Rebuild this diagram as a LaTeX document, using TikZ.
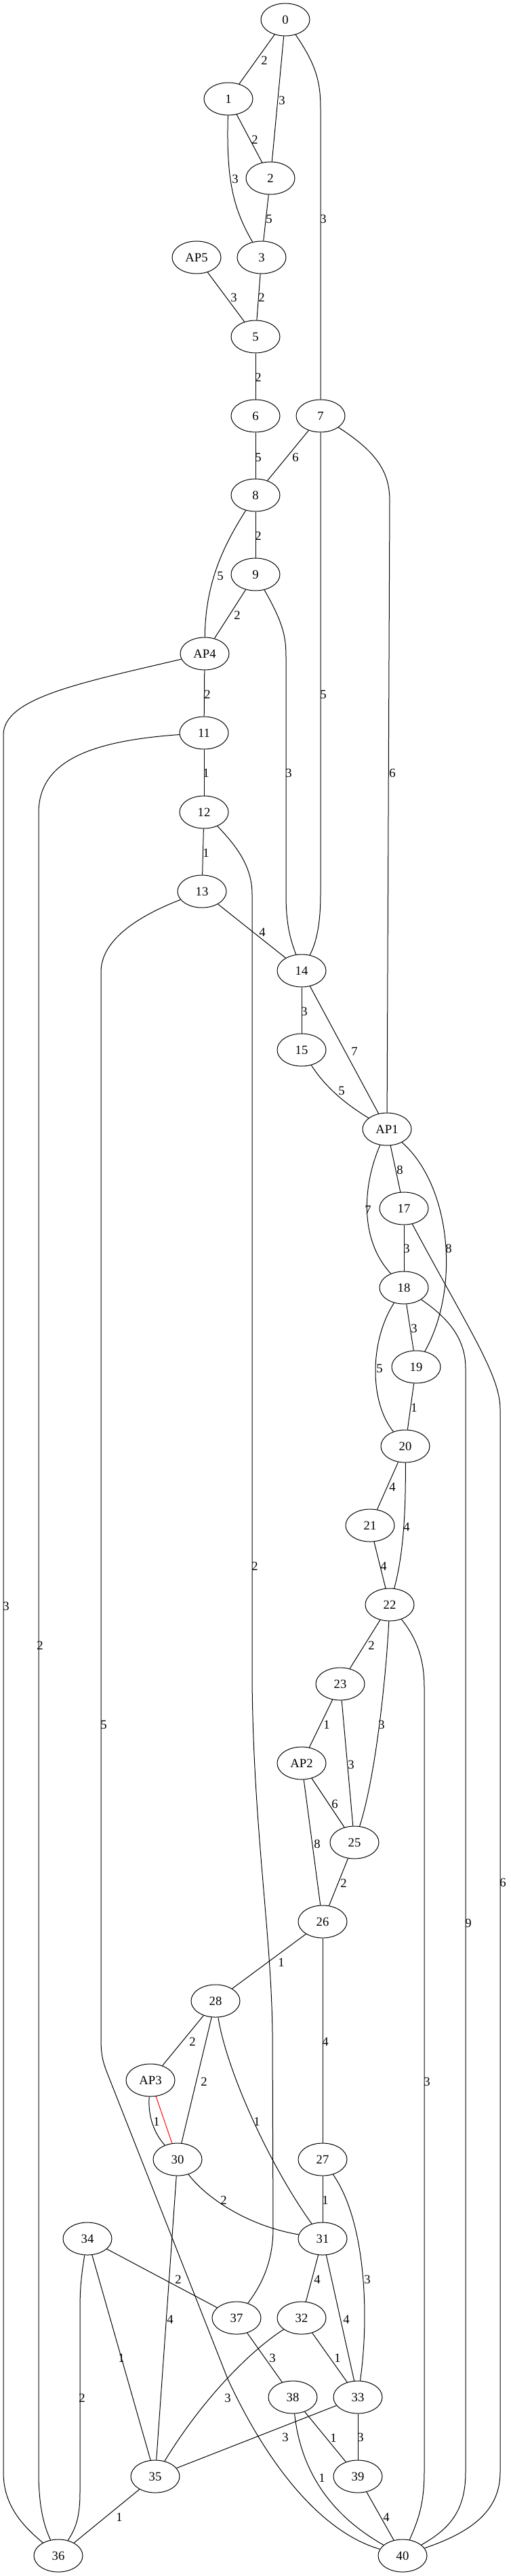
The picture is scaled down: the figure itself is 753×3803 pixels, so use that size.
\documentclass[tikz,border=0pt]{standalone}
\usepackage{fontspec}
\setmainfont{Liberation Serif}
\usepackage{tikz}
\usetikzlibrary{shapes.geometric}

\begin{document}
\begin{tikzpicture}[x=0.75pt,y=0.75pt,yscale=-1,xscale=1,
  vtx/.style={draw,ellipse,minimum width=54pt,minimum height=36pt,inner sep=0pt,line width=0.75pt,font=\fontsize{14}{16}\selectfont},
  wt/.style={inner sep=0pt,font=\fontsize{14}{16}\selectfont},
  every path/.style={line width=0.75pt}]
\fill[white] (0,0) rectangle (753,3803);
\useasboundingbox (0,0) rectangle (753,3803);

%Shape: Ellipse
\node[vtx] (n0) at (421,29) {0};
\node[vtx] (n1) at (337,146) {1};
\node[vtx] (n2) at (399,263) {2};
\node[vtx] (nAP5) at (290,380) {AP5};
\node[vtx] (n3) at (386,380) {3};
\node[vtx] (n5) at (377,497) {5};
\node[vtx] (n6) at (377,614) {6};
\node[vtx] (n7) at (473,614) {7};
\node[vtx] (n8) at (377,731) {8};
\node[vtx] (n9) at (377,848) {9};
\node[vtx] (nAP4) at (302,965) {AP4};
\node[vtx] (n11) at (301,1082) {11};
\node[vtx] (n12) at (301,1199) {12};
\node[vtx] (n13) at (298,1316) {13};
\node[vtx] (n14) at (445,1433) {14};
\node[vtx] (n15) at (445,1550) {15};
\node[vtx] (nAP1) at (571,1667) {AP1};
\node[vtx] (n17) at (596,1784) {17};
\node[vtx] (n18) at (596,1901) {18};
\node[vtx] (n19) at (614,2018) {19};
\node[vtx] (n20) at (598,2135) {20};
\node[vtx] (n21) at (546,2252) {21};
\node[vtx] (n22) at (575,2369) {22};
\node[vtx] (n23) at (502,2486) {23};
\node[vtx] (nAP2) at (445,2603) {AP2};
\node[vtx] (n25) at (523,2720) {25};
\node[vtx] (n26) at (476,2837) {26};
\node[vtx] (n28) at (318,2954) {28};
\node[vtx] (nAP3) at (222,3071) {AP3};
\node[vtx] (n30) at (262,3188) {30};
\node[vtx] (n27) at (476,3188) {27};
\node[vtx] (n34) at (129,3305) {34};
\node[vtx] (n31) at (476,3305) {31};
\node[vtx] (n37) at (349,3422) {37};
\node[vtx] (n32) at (445,3422) {32};
\node[vtx] (n38) at (432,3539) {38};
\node[vtx] (n33) at (528,3539) {33};
\node[vtx] (n35) at (229,3656) {35};
\node[vtx] (n39) at (528,3656) {39};
\node[vtx] (n36) at (86,3773) {36};
\node[vtx] (n40) at (594,3773) {40};

%Straight Lines and curves
\draw (n0) -- (n1);
\draw (n0) -- (n2);
\draw (n0) .. controls (466,95) and (473,120) .. (473,160) -- (n7);
\draw (n1) -- (n2);
\draw (n1) .. controls (334,260) and (342,305) .. (n3);
\draw (n2) -- (n3);
\draw (nAP5) -- (n5);
\draw (n3) -- (n5);
\draw (n5) -- (n6);
\draw (n6) -- (n8);
\draw (n7) -- (n8);
\draw (n7) -- (473,1320) .. controls (473,1370) and (465,1395) .. (n14);
\draw (n7) .. controls (560,670) and (575,700) .. (575,740) -- (nAP1);
\draw (n8) -- (n9);
\draw (n8) .. controls (330,805) and (303,860) .. (nAP4);
\draw (n9) -- (nAP4);
\draw (n9) .. controls (418,920) and (422,940) .. (422,970) -- (422,1320) .. controls (422,1370) and (430,1390) .. (n14);
\draw (nAP4) -- (n11);
\draw (nAP4) .. controls (120,1008) and (5,1030) .. (5,1085) -- (5,3650) .. controls (5,3700) and (35,3730) .. (n36);
\draw (n11) -- (n12);
\draw (n11) .. controls (130,1094) and (57,1125) .. (57,1200) -- (57,3650) .. controls (57,3700) and (65,3730) .. (n36);
\draw (n12) -- (n13);
\draw (n12) .. controls (350,1250) and (372,1280) .. (372,1320) -- (372,2480) .. controls (374,2700) and (400,2850) .. (402,3000) -- (403,3290) .. controls (403,3340) and (385,3375) .. (n37);
\draw (n13) -- (n14);
\draw (n13) .. controls (210,1350) and (149,1385) .. (149,1435) -- (149,3010) .. controls (149,3035) and (152,3045) .. (160,3065) -- (336,3512) .. controls (400,3650) and (480,3740) .. (n40);
\draw (n14) -- (n15);
\draw (n14) -- (nAP1);
\draw (n15) .. controls (480,1605) and (510,1630) .. (nAP1);
\draw (nAP1) -- (n17);
\draw (nAP1) .. controls (535,1750) and (530,1830) .. (n18);
\draw (nAP1) .. controls (665,1750) and (680,1900) .. (n19);
\draw (n17) -- (n18);
\draw (n17) .. controls (690,1960) and (738,2030) .. (738,2080) -- (738,3650) .. controls (738,3710) and (690,3740) .. (n40);
\draw (n18) -- (n19);
\draw (n18) .. controls (545,1980) and (545,2070) .. (n20);
\draw (n18) .. controls (660,1945) and (687,1975) .. (687,2020) -- (687,3650) .. controls (687,3710) and (660,3735) .. (n40);
\draw (n19) -- (n20);
\draw (n20) -- (n21);
\draw (n20) .. controls (599,2240) and (594,2300) .. (n22);
\draw (n21) -- (n22);
\draw (n22) -- (n23);
\draw (n22) .. controls (570,2470) and (555,2620) .. (n25);
\draw (n22) .. controls (612,2415) and (626,2445) .. (626,2490) -- (626,3650) .. controls (626,3700) and (615,3725) .. (n40);
\draw (n23) -- (nAP2);
\draw (n23) -- (n25);
\draw (nAP2) -- (n25);
\draw (nAP2) -- (n26);
\draw (n25) -- (n26);
\draw (n26) -- (n28);
\draw (n26) -- (n27);
\draw (n28) -- (nAP3);
\draw (n28) -- (n30);
\draw (n28) .. controls (335,3060) and (400,3200) .. (n31);
\draw (nAP3) .. controls (218,3125) and (228,3150) .. (n30);
\draw [color={rgb, 255:red, 255; green, 0; blue, 0 }] (nAP3) -- (n30);
\draw (n30) .. controls (300,3240) and (360,3285) .. (n31);
\draw (n30) -- (n35);
\draw (n27) -- (n31);
\draw (n27) .. controls (540,3280) and (545,3420) .. (n33);
\draw (n34) -- (n37);
\draw (n34) -- (n35);
\draw (n34) .. controls (118,3370) and (118,3390) .. (118,3420) -- (118,3680) .. controls (118,3720) and (110,3735) .. (n36);
\draw (n31) -- (n32);
\draw (n31) -- (n33);
\draw (n37) -- (n38);
\draw (n32) .. controls (370,3470) and (300,3540) .. (n35);
\draw (n32) -- (n33);
\draw (n33) -- (n35);
\draw (n38) -- (n39);
\draw (n38) .. controls (445,3660) and (500,3720) .. (n40);
\draw (n33) -- (n39);
\draw (n39) -- (n40);
\draw (n35) -- (n36);

% Text Node
\node[wt] (w1) at (390,89) {2};
\node[wt] (w2) at (416,148) {3};
\node[wt] (w3) at (477,323) {3};
\node[wt] (w4) at (376,206) {2};
\node[wt] (w5) at (347,264) {3};
\node[wt] (w6) at (397,323) {5};
\node[wt] (w7) at (345,439) {3};
\node[wt] (w8) at (386,439) {2};
\node[wt] (w9) at (381,557) {2};
\node[wt] (w10) at (381,675) {5};
\node[wt] (w11) at (436,675) {6};
\node[wt] (w12) at (381,791) {2};
\node[wt] (w13) at (325,850) {5};
\node[wt] (w14) at (350,908) {2};
\node[wt] (w15) at (306,1025) {2};
\node[wt] (w16) at (477,1025) {5};
\node[wt] (w17) at (304,1141) {1};
\node[wt] (w18) at (426,1141) {3};
\node[wt] (w19) at (579,1141) {6};
\node[wt] (w20) at (304,1259) {1};
\node[wt] (w21) at (387,1376) {4};
\node[wt] (w22) at (449,1493) {3};
\node[wt] (w23) at (523,1552) {7};
\node[wt] (w24) at (504,1610) {5};
\node[wt] (w25) at (590,1727) {8};
\node[wt] (w26) at (543,1786) {7};
\node[wt] (w27) at (662,1843) {8};
\node[wt] (w28) at (600,1843) {3};
\node[wt] (w29) at (611,1961) {3};
\node[wt] (w30) at (560,2020) {5};
\node[wt] (w31) at (611,2078) {1};
\node[wt] (w32) at (579,2195) {4};
\node[wt] (w33) at (600,2254) {4};
\node[wt] (w34) at (566,2312) {4};
\node[wt] (w35) at (376,2312) {2};
\node[wt] (w36) at (9,2371) {3};
\node[wt] (w37) at (59,2429) {2};
\node[wt] (w38) at (548,2429) {2};
\node[wt] (w39) at (153,2546) {5};
\node[wt] (w40) at (482,2546) {1};
\node[wt] (w41) at (563,2546) {3};
\node[wt] (w42) at (518,2605) {3};
\node[wt] (w43) at (494,2663) {6};
\node[wt] (w44) at (468,2722) {8};
\node[wt] (w45) at (507,2780) {2};
\node[wt] (w46) at (742,2779) {6};
\node[wt] (w47) at (691,2839) {9};
\node[wt] (w48) at (415,2897) {1};
\node[wt] (w49) at (284,3014) {2};
\node[wt] (w50) at (480,3014) {4};
\node[wt] (w51) at (630,3073) {3};
\node[wt] (w52) at (301,3073) {2};
\node[wt] (w53) at (231,3132) {1};
\node[wt] (w54) at (379,3132) {1};
\node[wt] (w55) at (330,3248) {2};
\node[wt] (w56) at (480,3248) {1};
\node[wt] (w57) at (263,3365) {2};
\node[wt] (w58) at (468,3365) {4};
\node[wt] (w59) at (542,3365) {3};
\node[wt] (w60) at (251,3424) {4};
\node[wt] (w61) at (511,3424) {4};
\node[wt] (w62) at (179,3481) {1};
\node[wt] (w63) at (402,3481) {3};
\node[wt] (w64) at (498,3481) {1};
\node[wt] (w65) at (121,3540) {2};
\node[wt] (w66) at (336,3540) {3};
\node[wt] (w67) at (421,3598) {3};
\node[wt] (w68) at (492,3599) {1};
\node[wt] (w69) at (532,3598) {3};
\node[wt] (w70) at (475,3658) {1};
\node[wt] (w71) at (176,3716) {1};
\node[wt] (w72) at (570,3716) {4};

\end{tikzpicture}
\end{document}
